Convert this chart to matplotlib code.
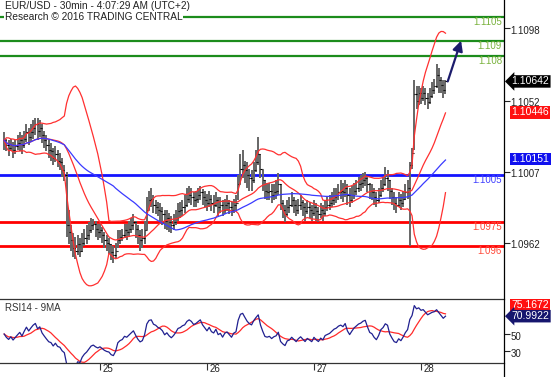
# Gráfico EUR/USD 30min con bandas de Bollinger, media de 50 y RSI14 (estilo Trading Central)
import numpy as np
import pandas as pd
import matplotlib
matplotlib.use('Agg')
import matplotlib.pyplot as plt
from matplotlib.lines import Line2D

plt.rcParams['font.family'] = ['Liberation Sans', 'DejaVu Sans']

# --- DATOS ---
inicio = '2016-06-24 02:30'   # primera vela de 30 minutos

cierre = [
    1.1027, 1.1024, 1.1022, 1.1024, 1.1021, 1.1023, 1.1025, 1.1027, 1.1024, 1.1028,
    1.1032, 1.1029, 1.1032, 1.1035, 1.1037, 1.1033, 1.1035, 1.1030, 1.1027, 1.1024,
    1.1021, 1.1020, 1.1016, 1.1018, 1.1014, 1.1013, 1.1008, 1.1005, 1.0973, 1.0969,
    1.0964, 1.0959, 1.0957, 1.0961, 1.0957, 1.0962, 1.0965, 1.0967, 1.0970, 1.0973,
    1.0974, 1.0971, 1.0969, 1.0970, 1.0967, 1.0964, 1.0962, 1.0961, 1.0956, 1.0954,
    1.0957, 1.0964, 1.0966, 1.0967, 1.0970, 1.0969, 1.0971, 1.0973, 1.0975, 1.0971,
    1.0967, 1.0964, 1.0965, 1.0970, 1.0983, 1.0989, 1.0990, 1.0986, 1.0985, 1.0983,
    1.0982, 1.0980, 1.0976, 1.0978, 1.0975, 1.0973, 1.0975, 1.0978, 1.0982, 1.0983,
    1.0985, 1.0986, 1.0990, 1.0992, 1.0991, 1.0989, 1.0990, 1.0992, 1.0994, 1.0991,
    1.0989, 1.0987, 1.0990, 1.0987, 1.0986, 1.0989, 1.0985, 1.0986, 1.0983, 1.0986,
    1.0987, 1.0985, 1.0983, 1.0986, 1.0987, 1.0999, 1.1009, 1.1011, 1.1008, 1.1005,
    1.1003, 1.1002, 1.1008, 1.1013, 1.1018, 1.1009, 1.1002, 1.0995, 1.0994, 1.0995,
    1.0992, 1.0994, 1.0995, 1.0999, 1.0987, 1.0983, 1.0980, 1.0985, 1.0986, 1.0989,
    1.0986, 1.0983, 1.0986, 1.0988, 1.0985, 1.0982, 1.0985, 1.0983, 1.0981, 1.0985,
    1.0982, 1.0980, 1.0983, 1.0981, 1.0985, 1.0986, 1.0987, 1.0989, 1.0991, 1.0992,
    1.0994, 1.0995, 1.0994, 1.0997, 1.0992, 1.0989, 1.0992, 1.0995, 1.0997, 1.0999,
    1.1000, 1.1002, 1.1003, 1.0999, 1.0995, 1.0994, 1.0991, 1.0989, 1.0992, 1.0997,
    1.0999, 1.1003, 1.1002, 1.0995, 1.0991, 1.0987, 1.0986, 1.0989, 1.0987, 1.0990,
    1.0994, 1.0997, 1.1011, 1.1019, 1.1056, 1.1052, 1.1057, 1.1054, 1.1057, 1.1054,
    1.1051, 1.1055, 1.1059, 1.1061, 1.1068, 1.1065, 1.1062, 1.1059, 1.10642,
]

maximo = [
    1.1032, 1.1028, 1.1027, 1.1028, 1.1026, 1.1027, 1.1030, 1.1032, 1.1030, 1.1033,
    1.1037, 1.1035, 1.1037, 1.1040, 1.1041, 1.1041, 1.1040, 1.1037, 1.1033, 1.1030,
    1.1027, 1.1025, 1.1022, 1.1023, 1.1021, 1.1019, 1.1016, 1.1011, 1.1007, 1.0983,
    1.0973, 1.0968, 1.0966, 1.0967, 1.0965, 1.0968, 1.0971, 1.0973, 1.0975, 1.0978,
    1.0977, 1.0976, 1.0974, 1.0974, 1.0972, 1.0969, 1.0967, 1.0965, 1.0961, 1.0960,
    1.0962, 1.0970, 1.0970, 1.0971, 1.0974, 1.0974, 1.0976, 1.0978, 1.0980, 1.0976,
    1.0973, 1.0970, 1.0971, 1.0976, 1.0991, 1.0995, 1.0997, 1.0992, 1.0989, 1.0988,
    1.0987, 1.0985, 1.0983, 1.0983, 1.0981, 1.0979, 1.0980, 1.0983, 1.0987, 1.0988,
    1.0989, 1.0992, 1.0997, 1.0998, 1.0997, 1.0994, 1.0995, 1.0997, 1.0998, 1.0996,
    1.0995, 1.0993, 1.0995, 1.0992, 1.0992, 1.0994, 1.0991, 1.0991, 1.0989, 1.0990,
    1.0992, 1.0989, 1.0988, 1.0990, 1.0992, 1.1005, 1.1018, 1.1021, 1.1014, 1.1013,
    1.1009, 1.1008, 1.1013, 1.1021, 1.1029, 1.1018, 1.1008, 1.1002, 1.1000, 1.1000,
    1.0999, 1.0999, 1.1002, 1.1006, 1.0999, 1.0989, 1.0986, 1.0989, 1.0991, 1.0994,
    1.0991, 1.0989, 1.0990, 1.0992, 1.0989, 1.0987, 1.0989, 1.0988, 1.0986, 1.0989,
    1.0987, 1.0985, 1.0987, 1.0986, 1.0989, 1.0991, 1.0992, 1.0994, 1.0997, 1.0997,
    1.0999, 1.1002, 1.1000, 1.1002, 1.0999, 1.0997, 1.0998, 1.1000, 1.1002, 1.1004,
    1.1005, 1.1006, 1.1007, 1.1004, 1.1000, 1.0999, 1.0997, 1.0994, 1.0997, 1.1002,
    1.1004, 1.1010, 1.1008, 1.1002, 1.0997, 1.0994, 1.0991, 1.0994, 1.0993, 1.0995,
    1.0999, 1.1002, 1.1013, 1.1022, 1.1065, 1.1061, 1.1061, 1.1060, 1.1061, 1.1060,
    1.1057, 1.1060, 1.1064, 1.1066, 1.1075, 1.1073, 1.1067, 1.1065, 1.1065,
]

minimo = [
    1.1021, 1.1020, 1.1017, 1.1020, 1.1016, 1.1018, 1.1021, 1.1020, 1.1018, 1.1022,
    1.1026, 1.1024, 1.1026, 1.1028, 1.1030, 1.1027, 1.1029, 1.1025, 1.1022, 1.1020,
    1.1016, 1.1014, 1.1011, 1.1013, 1.1010, 1.1008, 1.1004, 1.1001, 1.0966, 1.0961,
    1.0957, 1.0953, 1.0952, 1.0954, 1.0953, 1.0956, 1.0960, 1.0961, 1.0964, 1.0968,
    1.0970, 1.0966, 1.0964, 1.0965, 1.0962, 1.0959, 1.0957, 1.0955, 1.0951, 1.0949,
    1.0952, 1.0959, 1.0961, 1.0963, 1.0965, 1.0964, 1.0966, 1.0968, 1.0970, 1.0965,
    1.0961, 1.0957, 1.0959, 1.0961, 1.0970, 1.0983, 1.0985, 1.0981, 1.0980, 1.0979,
    1.0976, 1.0973, 1.0971, 1.0970, 1.0969, 1.0968, 1.0970, 1.0973, 1.0976, 1.0978,
    1.0979, 1.0981, 1.0985, 1.0987, 1.0986, 1.0985, 1.0985, 1.0987, 1.0989, 1.0986,
    1.0985, 1.0982, 1.0985, 1.0982, 1.0981, 1.0985, 1.0979, 1.0981, 1.0979, 1.0980,
    1.0982, 1.0980, 1.0979, 1.0981, 1.0983, 1.0989, 1.0999, 1.1003, 1.1000, 1.0997,
    1.0995, 1.0995, 1.1000, 1.1007, 1.1011, 1.1003, 1.0995, 1.0990, 1.0989, 1.0989,
    1.0987, 1.0989, 1.0990, 1.0992, 1.0983, 1.0978, 1.0975, 1.0979, 1.0981, 1.0985,
    1.0981, 1.0979, 1.0980, 1.0983, 1.0979, 1.0976, 1.0980, 1.0978, 1.0976, 1.0979,
    1.0976, 1.0975, 1.0978, 1.0976, 1.0979, 1.0982, 1.0983, 1.0985, 1.0986, 1.0987,
    1.0989, 1.0990, 1.0988, 1.0991, 1.0986, 1.0985, 1.0987, 1.0990, 1.0992, 1.0994,
    1.0995, 1.0997, 1.0998, 1.0994, 1.0990, 1.0989, 1.0986, 1.0985, 1.0987, 1.0991,
    1.0994, 1.0998, 1.0995, 1.0990, 1.0986, 1.0983, 1.0981, 1.0985, 1.0983, 1.0985,
    1.0989, 1.0990, 1.0960, 1.1009, 1.1021, 1.1047, 1.1049, 1.1050, 1.1052, 1.1049,
    1.1047, 1.1050, 1.1054, 1.1056, 1.1060, 1.1057, 1.1057, 1.1054, 1.1056,
]

resistencias = [1.1105, 1.109, 1.108]   # niveles verdes
pivote = 1.1005                          # nivel azul
soportes = [1.0975, 1.096]               # niveles rojos
ticks_precio = [1.1098, 1.1052, 1.1007, 1.0962]
ticks_rsi = [50, 30]

# valores de las etiquetas del eje derecho
ultimo_precio = 1.10642
media_bollinger = 1.10446
media_50 = 1.10151
rsi_media_final = 75.1672
rsi_final = 70.9922

# --- INDICADORES ---
s = pd.Series(cierre)
n = len(s)
x = np.arange(n)
fechas = pd.date_range(inicio, periods=n, freq='30min')

bb_mid = s.rolling(20, min_periods=1).mean()
bb_sd = s.rolling(20, min_periods=1).std(ddof=0)
bb_up = bb_mid + 2 * bb_sd
bb_dn = bb_mid - 2 * bb_sd
ma50 = s.rolling(50, min_periods=1).mean()

# RSI de Wilder, arrancando en un punto neutro (ganancia media = pérdida media)
delta = s.diff().fillna(0)
sube = delta.clip(lower=0)
baja = -delta.clip(upper=0)
semilla = delta.abs().iloc[1:15].mean() / 2
sube.iloc[0] = semilla
baja.iloc[0] = semilla
ganancia = sube.ewm(alpha=1 / 14, adjust=False).mean()
perdida = baja.ewm(alpha=1 / 14, adjust=False).mean()
rsi = 100 - 100 / (1 + ganancia / perdida)
rsi_ma = rsi.rolling(9, min_periods=1).mean()

apertura = s.shift(1).fillna(s.iloc[0])

# --- FIGURA ---
W, H = 558, 377
fig = plt.figure(figsize=(W / 100, H / 100), dpi=100)
ax = fig.add_axes([0, 1 - 298 / H, 504 / W, 298 / H])
ax2 = fig.add_axes([0, 1 - 363 / H, 504 / W, 64 / H])

x_izq = -1.86
x_der = 224.25
ax.set_xlim(x_izq, x_der)
ax.set_ylim(1.092707, 1.111576)
ax2.set_xlim(x_izq, x_der)
ax2.set_ylim(15.9, 91.2)

# niveles horizontales
for r in resistencias:
    ax.axhline(r, color='#1c8c1c', lw=1.6, zorder=1)
    ax.text(0.996, r, f'{r:g}', transform=ax.get_yaxis_transform(), ha='right', va='top',
            color='#79b23c', fontsize=7)
ax.axhline(pivote, color='#1414ff', lw=2, zorder=1)
ax.text(0.996, pivote, f'{pivote:g}', transform=ax.get_yaxis_transform(), ha='right', va='top',
        color='#4040ff', fontsize=7)
for r in soportes:
    ax.axhline(r, color='#ff0000', lw=2, zorder=1)
    ax.text(0.996, r, f'{r:g}', transform=ax.get_yaxis_transform(), ha='right', va='top',
            color='#ff4a3a', fontsize=7)

# barras OHLC
ax.vlines(x, minimo, maximo, color='#666666', lw=1.4, zorder=3)
ax.hlines(cierre, x, x + 0.5, color='black', lw=0.8, zorder=4)
ax.hlines(apertura, x - 0.5, x, color='black', lw=0.8, zorder=4)

# indicadores sobre el precio
ax.plot(x, bb_up, color='#ff3030', lw=0.9, zorder=5)
ax.plot(x, bb_mid, color='#ff3030', lw=0.9, zorder=5)
ax.plot(x, bb_dn, color='#ff3030', lw=0.9, zorder=5)
ax.plot(x, ma50, color='#3a3aff', lw=0.9, zorder=5)

# flecha objetivo hacia 1.109
ax.annotate('', xy=(n + 6, resistencias[1]), xytext=(n, cierre[-1]),
            arrowprops=dict(arrowstyle='-|>', color='#1c1c6c', lw=1.6, mutation_scale=15,
                            shrinkA=0, shrinkB=0), zorder=6)

ax.set_xticks([])
for sp in ax.spines.values():
    sp.set_visible(False)


def eje_derecho(eje, valores, formato):
    # marcas a la derecha con el texto un poco más abajo, como en el original
    eje.yaxis.tick_right()
    eje.set_yticks(valores)
    eje.set_yticklabels([])
    eje.tick_params(axis='y', length=4, width=0.8, colors='#222222')
    for v in valores:
        eje.annotate(formato.format(v), xy=(1, v), xycoords=eje.get_yaxis_transform(),
                     xytext=(4.5, -1.8), textcoords='offset points', ha='left', va='center',
                     fontsize=7, color='#222222', annotation_clip=False)


def etiqueta(eje, y, texto, fondo, flecha=False):
    estilo = 'larrow,pad=0.12' if flecha else 'square,pad=0.12'
    eje.text(1.015, y, texto, transform=eje.get_yaxis_transform(), ha='left', va='center',
             color='white', fontsize=7.5, clip_on=False,
             bbox=dict(boxstyle=estilo, fc=fondo, ec='none'))


eje_derecho(ax, ticks_precio, '{:.4f}')
etiqueta(ax, ultimo_precio, f'{ultimo_precio:.5f}', 'black', True)
etiqueta(ax, media_bollinger, f'{media_bollinger:.5f}', '#ff1010')
etiqueta(ax, media_50, f'{media_50:.5f}', '#1010ee')

# --- PANEL RSI ---
ax2.plot(x, rsi_ma, color='#ff2a2a', lw=0.9)
ax2.plot(x, rsi, color='#202090', lw=0.9)
eje_derecho(ax2, ticks_rsi, '{:d}')
for lado in ['left', 'right']:
    ax2.spines[lado].set_visible(False)
for lado in ['top', 'bottom']:
    ax2.spines[lado].set_color('#333333')
    ax2.spines[lado].set_linewidth(0.9)
ax2.text(0.01, 0.93, 'RSI14 - 9MA', transform=ax2.transAxes, ha='left', va='top',
         fontsize=7, color='#333333')
# la etiqueta de la media se sube para no pisar la del RSI
etiqueta(ax2, rsi_final + 13, f'{rsi_media_final:.4f}', '#ff1010')
etiqueta(ax2, rsi_final, f'{rsi_final:.4f}', '#16166e', True)

# marcas de los días
medianoches = np.where((fechas.hour == 0) & (fechas.minute == 0))[0]
ax2.set_xticks(medianoches)
ax2.set_xticklabels([])
ax2.tick_params(axis='x', length=5, width=0.8, colors='#333333')
for i in medianoches:
    ax2.annotate(str(fechas[i].day), xy=(i, 0), xycoords=ax2.get_xaxis_transform(),
                 xytext=(2, -1), textcoords='offset points', ha='left', va='top',
                 fontsize=7, color='#222222', annotation_clip=False)

# línea vertical del eje derecho
fig.add_artist(Line2D([504 / W, 504 / W], [0, 1], color='black', lw=0.9))

# títulos
fig.text(5 / W, 1 - 6 / H, 'EUR/USD - 30min - 4:07:29 AM (UTC+2)', ha='left', va='center',
         fontsize=7.3, color='#222222', bbox=dict(fc='white', ec='none', pad=0.5))
fig.text(5 / W, 1 - 17 / H, 'Research © 2016 TRADING CENTRAL', ha='left', va='center',
         fontsize=7.3, color='#222222', bbox=dict(fc='white', ec='none', pad=0.5))

fig.savefig('out.png', dpi=100)
